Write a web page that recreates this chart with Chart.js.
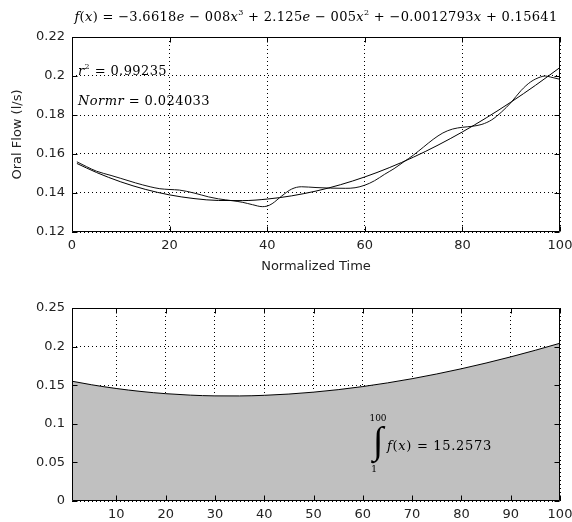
<!DOCTYPE html>
<html><head><meta charset="utf-8">
<script src="https://cdn.jsdelivr.net/npm/chart.js@4/dist/chart.umd.min.js"></script>
<style>
html,body{margin:0;padding:0;background:#fff;}
#c1{position:absolute;left:0;top:0;}
#c2{position:absolute;left:0;top:280px;}
</style>
</head><body>
<canvas id="c1" width="572" height="280"></canvas>
<canvas id="c2" width="572" height="242"></canvas>
<script>
// ---- data ----
const measuredX = [1,3,5,8,10,13,16,18,20,22,25,28,30,33,35,37,39,40,41,43,45,47,50,53,56,58,60,62,64,66,68,70,72,74,76,78,80,82,84,86,88,90,92,94,96,97,98,100];
const measuredY = [0.156,0.1535,0.1512,0.1490,0.1475,0.1452,0.1432,0.1422,0.1418,0.1415,0.1400,0.1380,0.1370,0.1360,0.1352,0.1340,0.1330,0.1333,0.1345,0.1385,0.1420,0.1432,0.1428,0.1425,0.1424,0.1427,0.1440,0.1463,0.1495,0.1525,0.1560,0.1595,0.1635,0.1675,0.1708,0.1728,0.1737,0.1742,0.1752,0.1775,0.1815,0.1865,0.1925,0.1970,0.1995,0.2000,0.1995,0.1983];
const fitX = [1,5,10,15,20,25,30,35,40,45,50,55,60,65,70,75,80,85,90,95,100];
const fitY = [0.15515,0.15054,0.14571,0.14188,0.13903,0.13714,0.13617,0.13610,0.13689,0.13854,0.14099,0.14424,0.14824,0.15298,0.15842,0.16455,0.17132,0.17871,0.18670,0.19526,0.20436];
const topXTicks = [0,20,40,60,80,100];
const topYTicks = [0.12,0.14,0.16,0.18,0.2,0.22];
const bottomXTicks = [10,20,30,40,50,60,70,80,90,100];
const bottomYTicks = [0,0.05,0.1,0.15,0.2,0.25];
const titleText = "f(x) = −3.6618e − 008x³ + 2.125e − 005x² + −0.0012793x + 0.15641";
const r2Text = "r² = 0.99235";
const normrText = "Normr = 0.024033";
const integralText = "f(x) = 15.2573";

// ---- helpers ----
const SANS = '"DejaVu Sans", sans-serif';
const SERIF = '"DejaVu Serif", serif';
const tickFont = {family: SANS, size: 13};
const fmt = v => String(Math.round(v * 1000) / 1000);
const pts = (xs, ys) => xs.map((x, i) => ({x, y: ys[i]}));

function drawRich(ctx, parts, x, y, size, targetW, align) {
  const fontOf = st => (st === 'i' ? 'italic ' : '') + (st === 's' ? Math.round(size * 0.65) : size) + 'px ' + SERIF;
  let w = 0, n = 0;
  ctx.letterSpacing = '0px';
  parts.forEach(([t, st]) => { ctx.font = fontOf(st); w += ctx.measureText(t).width; n += t.length; });
  const ls = targetW ? (targetW - w) / n : 0;
  let cx = align === 'center' ? x - (targetW || w) / 2 : x;
  ctx.textBaseline = 'alphabetic';
  ctx.textAlign = 'left';
  ctx.fillStyle = '#000';
  parts.forEach(([t, st]) => {
    ctx.font = fontOf(st);
    ctx.letterSpacing = '0px';
    const nat = ctx.measureText(t).width;
    ctx.letterSpacing = ls + 'px';
    ctx.fillText(t, cx, st === 's' ? y - size * 0.45 : y);
    cx += nat + ls * t.length;
  });
  ctx.letterSpacing = '0px';
}

function parse(str) {
  const parts = [];
  for (const ch of str) {
    let st = 'n', t = ch;
    if (/[a-zA-Z]/.test(ch)) st = 'i';
    if (ch === '²') { st = 's'; t = '2'; }
    if (ch === '³') { st = 's'; t = '3'; }
    const last = parts[parts.length - 1];
    if (last && last[1] === st) last[0] += t; else parts.push([t, st]);
  }
  return parts;
}

const annotators = {
  c1: (ctx, a) => {
    drawRich(ctx, parse(titleText), (a.left + a.right) / 2, 20.5, 13, 483, 'center');
    drawRich(ctx, parse(r2Text), a.left + 6, 75, 13, 89, 'left');
    drawRich(ctx, parse(normrText), a.left + 6, 104.5, 13, 132, 'left');
  },
  c2: (ctx, a) => {
    ctx.save();
    ctx.fillStyle = '#000';
    ctx.font = 'italic 38px "Liberation Serif", serif';
    ctx.textAlign = 'center';
    ctx.textBaseline = 'middle';
    ctx.fillText('∫', 378, 163);
    ctx.font = '9px ' + SERIF;
    ctx.textBaseline = 'alphabetic';
    ctx.fillText('100', 378, 141);
    ctx.fillText('1', 374, 192);
    ctx.restore();
    drawRich(ctx, parse(integralText), 387, 169.5, 13, 105, 'left');
  }
};

const boxPlugin = {
  id: 'box',
  afterDatasetsDraw(chart) {
    const ctx = chart.ctx, a = chart.chartArea, scales = chart.scales;
    ctx.save();
    ctx.strokeStyle = '#000';
    ctx.lineWidth = 1;
    ctx.setLineDash([]);
    const L = Math.round(a.left) + 0.5, R = Math.round(a.right) - 0.5;
    const T = Math.round(a.top) + 0.5, B = Math.round(a.bottom) - 0.5;
    ctx.beginPath();
    ctx.rect(L, T, R - L, B - T);
    const tk = 5;
    scales.x.ticks.forEach(t => {
      const p = Math.round(scales.x.getPixelForValue(t.value)) + 0.5;
      ctx.moveTo(p, B); ctx.lineTo(p, B - tk);
      ctx.moveTo(p, T); ctx.lineTo(p, T + tk);
    });
    scales.y.ticks.forEach(t => {
      const p = Math.round(scales.y.getPixelForValue(t.value)) + 0.5;
      ctx.moveTo(L, p); ctx.lineTo(L + tk, p);
      ctx.moveTo(R, p); ctx.lineTo(R - tk, p);
    });
    ctx.stroke();
    ctx.restore();
    const fn = annotators[chart.canvas.id];
    if (fn) fn(ctx, a);
  }
};

function scaleCommon(min, max, ticksArr, width, height, pad) {
  return {
    type: 'linear', min, max,
    afterBuildTicks: s => { s.ticks = ticksArr.map(v => ({value: v})); },
    afterFit: s => {
      if (width) s.width = width;
      if (height) s.height = height;
      s.paddingLeft = 0; s.paddingRight = 0; s.paddingTop = 0; s.paddingBottom = 0;
    },
    grid: {color: '#000', lineWidth: 1, drawTicks: false},
    border: {display: false, dash: [1, 3]},
    ticks: {font: tickFont, color: '#222', padding: pad, maxRotation: 0, autoSkip: false, callback: v => fmt(v)}
  };
}

// ---- top chart ----
const xs1 = scaleCommon(0, 100, topXTicks, 0, 48, 6);
xs1.title = {display: true, text: 'Normalized Time', font: {family: SANS, size: 13}, color: '#222', padding: {top: 0, bottom: 6}};
const ys1 = scaleCommon(0.12, 0.22, topYTicks, 72, 0, 7);
ys1.title = {display: true, text: 'Oral Flow (l/s)', font: {family: SANS, size: 13}, color: '#222', padding: {top: 10, bottom: 0}};

new Chart(document.getElementById('c1'), {
  type: 'line',
  data: {datasets: [
    {data: pts(fitX, fitY), borderColor: '#000', borderWidth: 1, pointRadius: 0, cubicInterpolationMode: 'monotone', fill: false},
    {data: pts(measuredX, measuredY), borderColor: '#111', borderWidth: 1, pointRadius: 0, cubicInterpolationMode: 'monotone', fill: false}
  ]},
  options: {
    responsive: false, animation: false, devicePixelRatio: 1,
    layout: {padding: {top: 37, right: 12, left: 0, bottom: 0}},
    scales: {x: xs1, y: ys1},
    plugins: {legend: {display: false}, tooltip: {enabled: false}}
  },
  plugins: [boxPlugin]
});

// ---- bottom chart ----
const xs2 = scaleCommon(1, 100, bottomXTicks, 0, 21, 6);
const ys2 = scaleCommon(0, 0.25, bottomYTicks, 72, 0, 7);
new Chart(document.getElementById('c2'), {
  type: 'line',
  data: {datasets: [
    {data: pts(fitX, fitY), borderColor: '#000', borderWidth: 1, pointRadius: 0, cubicInterpolationMode: 'monotone', fill: 'origin', backgroundColor: '#c0c0c0'}
  ]},
  options: {
    responsive: false, animation: false, devicePixelRatio: 1,
    layout: {padding: {top: 28, right: 12, left: 0, bottom: 0}},
    scales: {x: xs2, y: ys2},
    plugins: {legend: {display: false}, tooltip: {enabled: false}}
  },
  plugins: [boxPlugin]
});
</script>
</body></html>
